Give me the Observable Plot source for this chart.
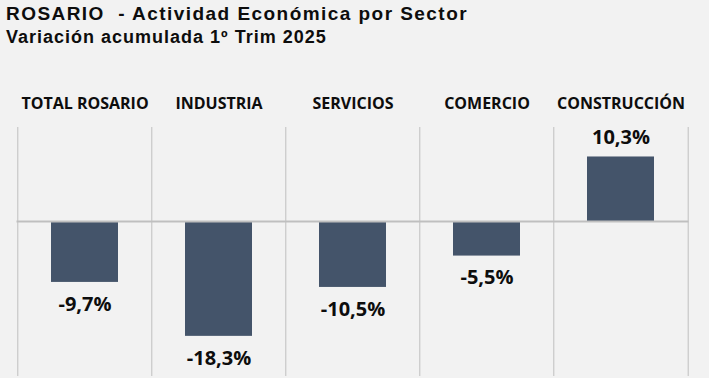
<!DOCTYPE html>
<html>
<head>
<meta charset="utf-8">
<script src="https://cdn.jsdelivr.net/npm/d3@7"></script>
<script src="https://cdn.jsdelivr.net/npm/@observablehq/plot@0.6"></script>
<style>
  html, body { margin: 0; padding: 0; background: #F2F2F2; width: 709px; height: 378px; overflow: hidden; }
  #wrap { position: relative; width: 709px; height: 378px; }
  #title { position: absolute; left: 6px; top: 3px; font-family: "Liberation Sans", Arial, sans-serif; font-weight: bold; font-size: 19px; letter-spacing: 1.45px; color: #0D0D0D; white-space: pre; line-height: 1.15; }
  #subtitle { position: absolute; left: 6px; top: 27px; font-family: "Liberation Sans", Arial, sans-serif; font-weight: bold; font-size: 18px; letter-spacing: 1px; color: #0D0D0D; white-space: pre; line-height: 1.15; }
  #chart { position: absolute; left: 0; top: 0; }
</style>
</head>
<body>
<div id="wrap">
  <div id="chart"></div>
  <div id="title">ROSARIO  - Actividad Económica por Sector</div>
  <div id="subtitle">Variación acumulada 1º Trim 2025</div>
</div>
<script>
const categories = ["TOTAL ROSARIO", "INDUSTRIA", "SERVICIOS", "COMERCIO", "CONSTRUCCIÓN"];
const values = [-9.7, -18.3, -10.5, -5.5, 10.3];
const valueLabels = ["-9,7%", "-18,3%", "-10,5%", "-5,5%", "10,3%"];

const data = categories.map((c, i) => ({cat: c, value: values[i], label: valueLabels[i]}));
const neg = data.filter(d => d.value < 0);
const pos = data.filter(d => d.value >= 0);

const W = 709, H = 378;
const mLeft = 16.5, mRight = 20.5, mTop = 127, mBottom = 2;
const step = (W - mLeft - mRight) / categories.length;

const plot = Plot.plot({
  width: W,
  height: H,
  marginLeft: mLeft,
  marginRight: mRight,
  marginTop: mTop,
  marginBottom: mBottom,
  style: {background: "transparent", fontFamily: "'Open Sans', sans-serif"},
  x: {domain: categories, paddingInner: 0.5, paddingOuter: 0.25, axis: null},
  y: {domain: [-24.7, 15], axis: null},
  marks: [
    Plot.ruleX(categories, {x: d => d, dx: -step / 2, stroke: "#BFBFBF", strokeWidth: 1}),
    Plot.ruleX(categories.slice(-1), {x: d => d, dx: step / 2, stroke: "#BFBFBF", strokeWidth: 1}),
    Plot.barY(data, {x: "cat", y: "value", fill: "#44546A"}),
    Plot.ruleY([0], {stroke: "#BFBFBF", strokeWidth: 2}),
    Plot.text(categories, {x: d => d, frameAnchor: "top", dy: -24, text: d => d, fontWeight: "bold", fontSize: 16, fill: "#0D0D0D", lineAnchor: "middle"}),
    Plot.text(neg, {x: "cat", y: "value", text: "label", fontWeight: "bold", fontSize: 20, fill: "#0D0D0D", dy: 22, lineAnchor: "middle"}),
    Plot.text(pos, {x: "cat", y: "value", text: "label", fontWeight: "bold", fontSize: 20, fill: "#0D0D0D", dy: -19, lineAnchor: "middle"})
  ]
});
document.getElementById("chart").appendChild(plot);
</script>
</body>
</html>
